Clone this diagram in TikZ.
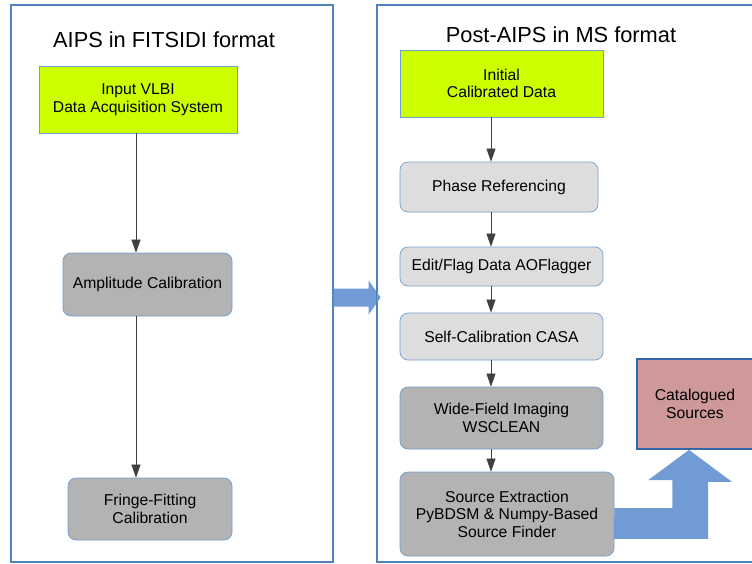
\documentclass[tikz,border=0pt]{standalone}
\usepackage{fontspec}
\setmainfont{Liberation Sans}
\usetikzlibrary{arrows.meta}

\definecolor{panelblue}{RGB}{79,129,189}
\definecolor{edgeblue}{RGB}{114,159,207}
\definecolor{fatblue}{RGB}{112,155,212}
\definecolor{inputgreen}{RGB}{204,255,0}
\definecolor{darkstage}{RGB}{179,179,179}
\definecolor{lightstage}{RGB}{221,221,221}
\definecolor{catpink}{RGB}{208,153,153}
\definecolor{catedge}{RGB}{52,101,164}

\begin{document}
\begin{tikzpicture}[x=1pt,y=-1pt,
		panel/.style={draw=panelblue, line width=1.3pt, inner sep=0pt},
		title/.style={font=\fontsize{21.8}{24}\selectfont},
		label/.style={align=center, inner sep=0pt, font=\fontsize{15.7}{17.5}\selectfont},
		stage/.style={label, draw=edgeblue, line width=0.7pt},
		inputbox/.style={stage, fill=inputgreen},
		darkbox/.style={stage, fill=darkstage, rounded corners=8pt},
		lightbox/.style={stage, fill=lightstage, rounded corners=8pt},
		flow/.style={draw=black!75, line width=0.6pt, -{Triangle[length=13pt,width=9pt]}},
		fatarrow/.style={fill=fatblue, draw=none}]
	\useasboundingbox (0,0) rectangle (752,563);
	\fill[white] (0,0) rectangle (752,563);

	% the two panels
	\node[panel, minimum width=322pt, minimum height=557pt] (aips) at (172,283.5) {};
	\node[panel, minimum width=400pt, minimum height=557pt] (postaips) at (577,283.5) {};
	\node[title] (aipstitle) at (164,40) {AIPS in FITSIDI format};
	\node[title] (posttitle) at (561,34.5) {Post-AIPS in MS format};

	% hand-over arrow between the panels
	\fill[fatarrow] ([yshift=-5pt]aips.east) -- ++(35,0) -- ++(0,-8) -- ++(12,17) -- ++(-12,17) -- ++(0,-8) -- ++(-35,0) -- cycle;
	\draw[panelblue, line width=1.3pt] (postaips.north west) -- (postaips.south west);

	% AIPS stages
	\node[inputbox, minimum width=198pt, minimum height=67pt] (vlbi) at (138,99.5) {Input VLBI\\Data Acquisition System};
	\node[darkbox, minimum width=169pt, minimum height=63pt] (amp) at (147.5,284.5) {Amplitude Calibration};
	\node[darkbox, minimum width=164pt, minimum height=62pt] (fringe) at (150,509) {Fringe-Fitting\\Calibration};

	% post-AIPS stages
	\node[inputbox, minimum width=203pt, minimum height=67pt] (initial) at (501.5,83.5) {Initial\\Calibrated Data};
	\node[lightbox, minimum width=198pt, minimum height=50pt] (phase) at (499,187) {Phase Referencing};
	\node[lightbox, minimum width=203pt, minimum height=39pt] (flag) at (501.5,266.5) {Edit/Flag Data AOFlagger};
	\node[lightbox, minimum width=203pt, minimum height=47pt] (selfcal) at (501.5,336.5) {Self-Calibration CASA};
	\node[darkbox, minimum width=203pt, minimum height=62pt] (imaging) at (501.5,418) {Wide-Field Imaging\\WSCLEAN};
	\node[darkbox, minimum width=214pt, minimum height=84pt] (extract) at (507,514) {Source Extraction\\PyBDSM \& Numpy-Based\\Source Finder};
	\node[draw=catedge, line width=1.8pt, fill=catpink, minimum width=120pt, minimum height=90pt] (catalog) at (697,404) {};
	\node[label] (catlabel) at (695,404) {Catalogued\\Sources};

	\coordinate (lcol) at (136,0);
	\coordinate (rcol) at (491,0);

	\draw[flow] (vlbi.south -| lcol) -- (amp.north -| lcol);
	\draw[flow] (amp.south -| lcol) -- (fringe.north -| lcol);
	\draw[flow] (initial.south -| rcol) -- (phase.north -| rcol);
	\draw[flow] (phase.south -| rcol) -- (flag.north -| rcol);
	\draw[flow] (flag.south -| rcol) -- (selfcal.north -| rcol);
	\draw[flow] (selfcal.south -| rcol) -- (imaging.north -| rcol);
	\draw[flow] (imaging.south -| rcol) -- (extract.north -| rcol);

	% bent arrow up to the catalogue
	\fill[fatarrow] ([yshift=6pt]extract.east) -- ++(58,0) -- ++(0,-28) -- ++(-24,0) -- ([xshift=-8pt]catalog.south) -- ++(43,32) -- ++(-24,0) -- ++(0,57) -- ++(-94,0) -- cycle;
\end{tikzpicture}
\end{document}
